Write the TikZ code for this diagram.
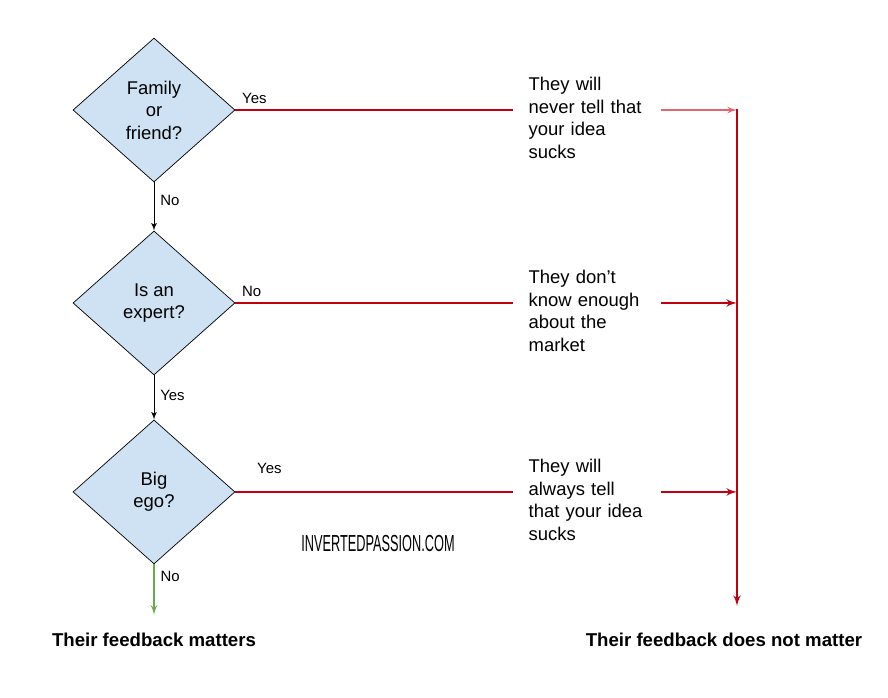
\documentclass[tikz,border=0pt]{standalone}
\usepackage{fontspec}
\setmainfont{Liberation Sans}
\usetikzlibrary{shapes,arrows,calc,positioning}
\definecolor{qfill}{HTML}{CFE2F3}
\definecolor{nomatter}{HTML}{C00010}
\definecolor{nomatterlight}{HTML}{E06670}
\definecolor{matters}{HTML}{6AA84F}

\begin{document}
\begin{tikzpicture}[x=0.02cm, y=-0.02cm, >=latex', font=\fontsize{10.5}{12.8}\selectfont]
\tikzset{question/.style = {draw, diamond, fill=qfill, aspect=1.125,
  minimum width=3.24cm, minimum height=2.88cm, inner sep=0pt, align=center}}
\tikzset{answer/.style = {anchor=west, text width=2.34cm, inner xsep=0.3cm,
  align=left, yshift=-0.16cm}}
\tikzset{lbl/.style = {font=\fontsize{8.5}{10}\selectfont}}
\tikzset{result/.style = {font=\fontsize{10.6}{12}\selectfont\bfseries, inner ysep=0.36cm}}
\tikzset{redline/.style = {draw=nomatter, line width=1.1pt}}

  \useasboundingbox (0,0) rectangle (888,697);

  % questions
  \node[question] at (154,110) (family){Family\\or\\friend?};
  \node[question, node distance=3.86cm, below of=family] (expert){Is an\\expert?};
  \node[question, node distance=3.78cm, below of=expert] (ego){Big\\ego?};

  % answers
  \node[answer, right=5.56cm of family] (never){They will\\never tell that\\your idea\\sucks};
  \node[answer, right=5.56cm of expert] (market){They don't\\know enough\\about the\\market};
  \node[answer, right=5.56cm of ego] (always){They will\\always tell\\that your idea\\sucks};

  \node[result] at (154,640) (matters){Their feedback matters};
  \node[result] at (724,640) (notmatter){Their feedback does not matter};

  \node[font=\fontsize{13.2}{14}\selectfont, text=black] at (378,544) (site)
    {\scalebox{0.55}[1]{INVERTEDPASSION.COM}};

  \coordinate (jtop) at (737,109);
  \coordinate (jbot) at (737,606);

  % connectors
  \draw[->, line width=0.5pt] (family.south) -- node[pos=0.38, right, lbl]{No} (expert.north);
  \draw[->, line width=0.5pt] (expert.south) -- node[pos=0.45, right, lbl]{Yes} (ego.north);
  \draw[->, draw=matters, line width=0.9pt] (ego.south) -- node[pos=0.25, right, lbl]{No} (ego.south |- matters.north);

  \draw[redline] (family.east) -- node[pos=0, above right, lbl]{Yes} (family.east -| never.west);
  \draw[redline] (expert.east) -- node[pos=0, above right, lbl]{No} (expert.east -| market.west);
  \draw[redline] (ego.east) -- node[pos=0, above right, lbl, xshift=0.3cm, yshift=0.22cm]{Yes} (ego.east -| always.west);

  \draw[->, draw=nomatterlight, line width=0.9pt] ([yshift=0.16cm]never.east) -- ([yshift=0.16cm]never.east -| jtop);
  \draw[->, redline] ([yshift=0.16cm]market.east) -- ([yshift=0.16cm]market.east -| jtop);
  \draw[->, redline] ([yshift=0.16cm]always.east) -- ([yshift=0.16cm]always.east -| jtop);
  \draw[->, redline] (jtop) -- (jbot);

\end{tikzpicture}
\end{document}
